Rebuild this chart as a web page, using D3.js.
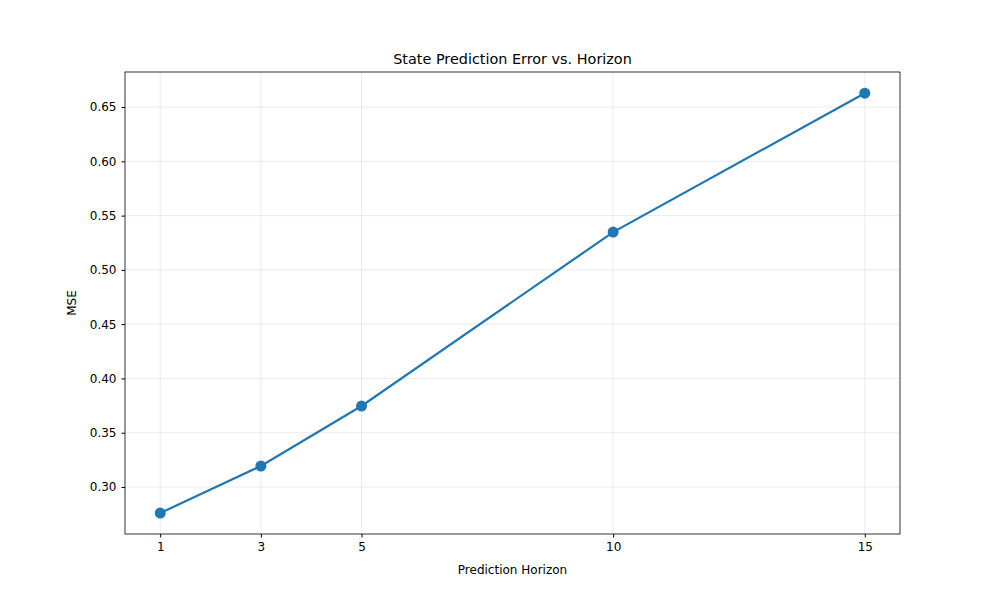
<!DOCTYPE html>
<html><head><meta charset="utf-8">
<script src="https://cdn.jsdelivr.net/npm/d3@7"></script>
<style>body{margin:0;background:#fff;font-family:"DejaVu Sans",sans-serif;}</style>
</head><body><svg id="c" width="1000" height="600"></svg>
<script>
const horizons = [1, 3, 5, 10, 15];
const mse = [0.276, 0.3193, 0.3746, 0.5348, 0.6628];
const yTicks = [0.30, 0.35, 0.40, 0.45, 0.50, 0.55, 0.60, 0.65];

const m = {l:125, r:900, t:72, b:534};
const svg = d3.select('#c');
const x = d3.scaleLinear().domain([0.3, 15.7]).range([m.l, m.r]);
const y = d3.scaleLinear().domain([0.2567, 0.6823]).range([m.b, m.t]);

//grid
svg.append('g').selectAll('line').data(horizons).join('line')
	.attr('x1', d => x(d)).attr('x2', d => x(d)).attr('y1', m.t).attr('y2', m.b)
	.attr('stroke', '#b0b0b0').attr('stroke-opacity', 0.3).attr('stroke-width', 0.8);
svg.append('g').selectAll('line').data(yTicks).join('line')
	.attr('y1', d => y(d)).attr('y2', d => y(d)).attr('x1', m.l).attr('x2', m.r)
	.attr('stroke', '#b0b0b0').attr('stroke-opacity', 0.3).attr('stroke-width', 0.8);

//axes
const xa = svg.append('g').attr('transform', `translate(0,${m.b})`)
	.call(d3.axisBottom(x).tickValues(horizons).tickSize(3.5).tickPadding(5));
const ya = svg.append('g').attr('transform', `translate(${m.l},0)`)
	.call(d3.axisLeft(y).tickValues(yTicks).tickFormat(d3.format('.2f')).tickSize(3.5).tickPadding(5));
[xa, ya].forEach(a => {
	a.select('.domain').remove();
	a.selectAll('text').attr('font-size', 12).attr('font-family', 'DejaVu Sans').attr('fill', '#000');
	a.selectAll('line').attr('stroke', '#000');
});
svg.append('rect').attr('x', m.l).attr('y', m.t).attr('width', m.r - m.l).attr('height', m.b - m.t)
	.attr('fill', 'none').attr('stroke', '#000').attr('stroke-width', 0.8);

//line + markers
svg.append('path').datum(horizons.map((h, i) => [h, mse[i]]))
	.attr('d', d3.line().x(d => x(d[0])).y(d => y(d[1])))
	.attr('fill', 'none').attr('stroke', '#1f77b4').attr('stroke-width', 2.2);
svg.append('g').selectAll('circle').data(horizons).join('circle')
	.attr('cx', d => x(d)).attr('cy', (d, i) => y(mse[i])).attr('r', 5.5).attr('fill', '#1f77b4');

//labels
svg.append('text').attr('x', (m.l + m.r) / 2).attr('y', 64).attr('text-anchor', 'middle')
	.attr('font-size', 14.4).text('State Prediction Error vs. Horizon');
svg.append('text').attr('x', (m.l + m.r) / 2).attr('y', 574).attr('text-anchor', 'middle')
	.attr('font-size', 12).text('Prediction Horizon');
svg.append('text').attr('transform', `translate(76,${(m.t + m.b) / 2}) rotate(-90)`).attr('text-anchor', 'middle')
	.attr('font-size', 12).text('MSE');
</script></body></html>
